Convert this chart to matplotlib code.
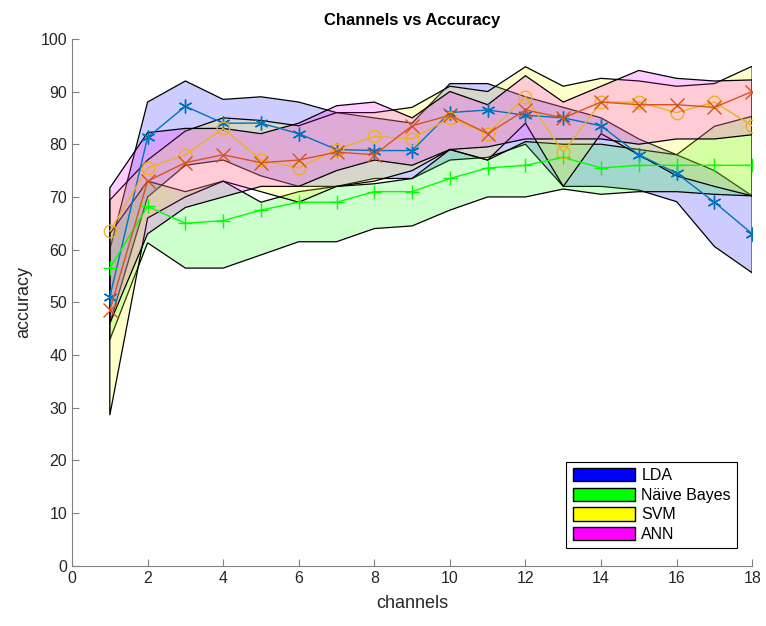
import numpy as np
import matplotlib.pyplot as plt
from matplotlib.patches import Patch

plt.rcParams['font.family'] = ['Liberation Sans', 'DejaVu Sans']

channels = np.arange(1, 19)

# mean accuracy per classifier
lda_mean = [51, 81.3, 87.2, 84, 84, 82, 79, 78.8, 78.8, 86, 86.5, 85.5, 85, 83.5, 78, 74.5, 69, 63]
nb_mean = [56.5, 68.2, 65, 65.5, 67.5, 69, 69, 71, 71, 73.5, 75.5, 76, 77.5, 75.5, 76, 76, 76, 76]
svm_mean = [63.5, 75.5, 78, 83, 77, 75.5, 79, 81.5, 81, 85, 82, 89, 78.5, 88, 88, 86, 88, 83.5]
ann_mean = [48.5, 73, 76.5, 78, 76.5, 77, 78.5, 78, 83.5, 85.5, 82, 86.5, 85, 88, 87.5, 87.5, 87, 90]

# spread bounds per classifier
lda_hi = [60, 88, 92, 88.5, 89, 88, 86, 85, 84, 91.5, 91.5, 89, 87, 85, 81, 78, 75, 70.2]
lda_lo = [46, 70, 76, 77, 74, 72, 72, 73.5, 73.5, 77, 77.5, 80, 72, 72, 71.3, 69.1, 60.6, 55.6]
nb_hi = [63, 73, 71, 73, 69, 71, 72, 72.5, 73.5, 79, 77, 80.5, 80, 80, 79, 78, 83.4, 85.3]
nb_lo = [42.9, 61.3, 56.5, 56.5, 59, 61.5, 61.5, 64, 64.5, 67.5, 70, 70, 71.5, 70.5, 71, 71, 70.5, 70.2]
svm_hi = [69.4, 77, 82.5, 85, 84.5, 83.5, 86, 86, 87, 91, 90, 94.7, 91, 92.5, 92, 91, 91.5, 94.8]
svm_lo = [28.6, 66, 70, 73, 71, 69, 72, 73, 75, 79, 77, 84, 72, 82, 78, 74, 72, 70.2]
ann_hi = [71.7, 82.2, 83, 83, 82, 84, 87.3, 88, 85, 90, 87.5, 93, 88, 91, 94, 92.5, 92, 92.2]
ann_lo = [46, 63, 68, 70, 72, 72, 75, 77, 76, 79, 79.5, 81, 81, 81, 80, 81, 81, 81.8]

names = ['LDA', 'Näive Bayes', 'SVM', 'ANN']
fill_colors = ['#0000ff', '#00ff00', '#ffff00', '#ff00ff']
line_colors = ['#0072bd', '#00ff00', '#edb120', '#d95319']
markers = [(6, 2, 0), '+', 'o', 'x']
means = [lda_mean, nb_mean, svm_mean, ann_mean]
his = [lda_hi, nb_hi, svm_hi, ann_hi]
los = [lda_lo, nb_lo, svm_lo, ann_lo]

fig = plt.figure(figsize=(7.66, 6.26), dpi=100)
ax = fig.add_axes([0.094, 0.096, 0.888, 0.842])

# shaded bands
for hi, lo, fc in zip(his, los, fill_colors):
    xs = np.concatenate([channels, channels[::-1]])
    ys = np.concatenate([hi, lo[::-1]])
    ax.fill(xs, ys, facecolor=fc, alpha=0.2, edgecolor='none')
    ax.fill(xs, ys, facecolor='none', edgecolor='black', lw=0.9)

# mean lines
for m, lc, mk in zip(means, line_colors, markers):
    ax.plot(channels, m, color=lc, marker=mk, ms=10 if mk != 'o' else 9,
            mfc='none', mec=lc, mew=1, lw=1.0)

ax.set_xlim(0, 18)
ax.set_ylim(0, 100)
ax.set_xticks(range(0, 19, 2))
ax.set_yticks(range(0, 101, 10))
ax.tick_params(direction='in', length=5, colors='#262626', labelsize=11.5,
               color='#808080')
for side in ['top', 'right']:
    ax.spines[side].set_visible(False)
for side in ['left', 'bottom']:
    ax.spines[side].set_color('#808080')

ax.set_xlabel('channels', fontsize=13, color='#262626', labelpad=7)
ax.set_ylabel('accuracy', fontsize=13, color='#262626', labelpad=6)
ax.set_title('Channels vs Accuracy', fontsize=12, fontweight='bold', pad=10)

handles = [Patch(facecolor=c, edgecolor='black', label=n) for n, c in zip(names, fill_colors)]
leg = ax.legend(handles=handles, loc='lower right', bbox_to_anchor=(0.99, 0.018),
                fontsize=11.5, fancybox=False, edgecolor='black', framealpha=1,
                handlelength=3.9, handleheight=0.9, handletextpad=0.4,
                labelspacing=0.28, borderpad=0.4)
leg.get_frame().set_linewidth(0.8)

plt.savefig('out.png', dpi=100)
